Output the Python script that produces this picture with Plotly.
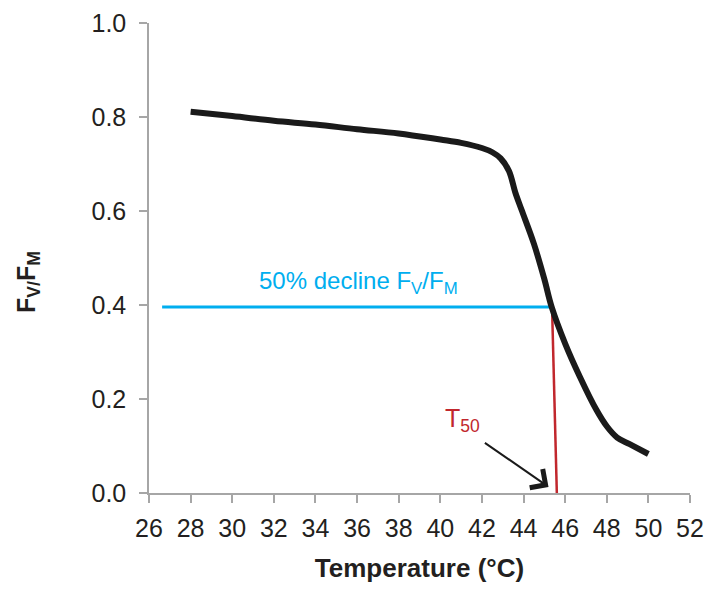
import plotly.graph_objects as go

# Data
temperature = [28, 30, 32, 34, 36, 38, 40, 41, 42, 42.5, 42.9, 43.3, 43.6, 43.9,
               44.5, 45, 45.35, 46, 46.7, 47.5, 48.0, 48.5, 49.1, 50]
fv_fm = [0.811, 0.802, 0.792, 0.784, 0.774, 0.765, 0.752, 0.745, 0.734, 0.725,
         0.712, 0.685, 0.64, 0.603, 0.53, 0.455, 0.396, 0.318, 0.248, 0.177,
         0.142, 0.118, 0.104, 0.083]

decline_x = [26.63, 45.37]
decline_y = [0.396, 0.396]

t50_x = [45.37, 45.6]
t50_y = [0.396, 0.0]

x_ticks = list(range(26, 53, 2))
y_ticks = [0.0, 0.2, 0.4, 0.6, 0.8, 1.0]

FONT = "Liberation Sans, Arial, sans-serif"
AXIS_GREY = "#a6a6a6"
BLUE = "#00aeef"
RED = "#c1272d"
TEXT = "#231f20"

fig = go.Figure()

fig.add_trace(go.Scatter(x=decline_x, y=decline_y, mode="lines",
                         line=dict(color=BLUE, width=3), hoverinfo="skip"))
fig.add_trace(go.Scatter(x=t50_x, y=t50_y, mode="lines",
                         line=dict(color=RED, width=2.5), hoverinfo="skip"))
fig.add_trace(go.Scatter(x=temperature, y=fv_fm, mode="lines",
                         line=dict(color="#1a1a1a", width=6, shape="spline", smoothing=1.0)))

fig.add_annotation(x=36.07, y=0.447, xref="x", yref="y",
                   text="50% decline F<sub>V</sub>/F<sub>M</sub>",
                   showarrow=False, font=dict(family=FONT, size=24, color=BLUE))
fig.add_annotation(x=41.05, y=0.155, xref="x", yref="y",
                   text="T<sub>50</sub>", showarrow=False,
                   font=dict(family=FONT, size=25, color=RED))
fig.add_annotation(x=45.2, y=0.013, ax=42.07, ay=0.109, xref="x", yref="y",
                   axref="x", ayref="y", text="", showarrow=True,
                   arrowhead=4, arrowsize=2.2, arrowwidth=2, arrowcolor="#1a1a1a")

# y axis title
fig.add_annotation(x=-0.2237, y=0.449, xref="paper", yref="paper",
                   text="<b>F<sub>V/</sub>F<sub>M</sub></b>", textangle=-90,
                   showarrow=False, xanchor="center", yanchor="middle",
                   font=dict(family=FONT, size=25, color=TEXT))

fig.update_layout(
    width=706, height=590,
    margin=dict(l=149, r=16, t=23, b=97),
    paper_bgcolor="white", plot_bgcolor="white",
    showlegend=False,
    font=dict(family=FONT, size=25, color=TEXT),
    xaxis=dict(range=[26, 52], tickvals=x_ticks, ticks="outside", ticklen=8,
               tickcolor=AXIS_GREY, tickwidth=1.5, showline=True,
               linecolor=AXIS_GREY, linewidth=1.5, showgrid=False, zeroline=False,
               automargin=False, ticklabelstandoff=4,
               tickfont=dict(family=FONT, size=25, color=TEXT),
               title=dict(text="<b>Temperature (°C)</b>", standoff=18,
                          font=dict(family=FONT, size=26, color=TEXT))),
    yaxis=dict(range=[0, 1], tickvals=y_ticks, tickformat=".1f", ticks="outside",
               ticklen=8, tickcolor=AXIS_GREY, tickwidth=1.5, showline=True,
               linecolor=AXIS_GREY, linewidth=1.5, showgrid=False, zeroline=False,
               automargin=False, ticklabelstandoff=8,
               tickfont=dict(family=FONT, size=25, color=TEXT)),
)

fig.write_html("out.html")
